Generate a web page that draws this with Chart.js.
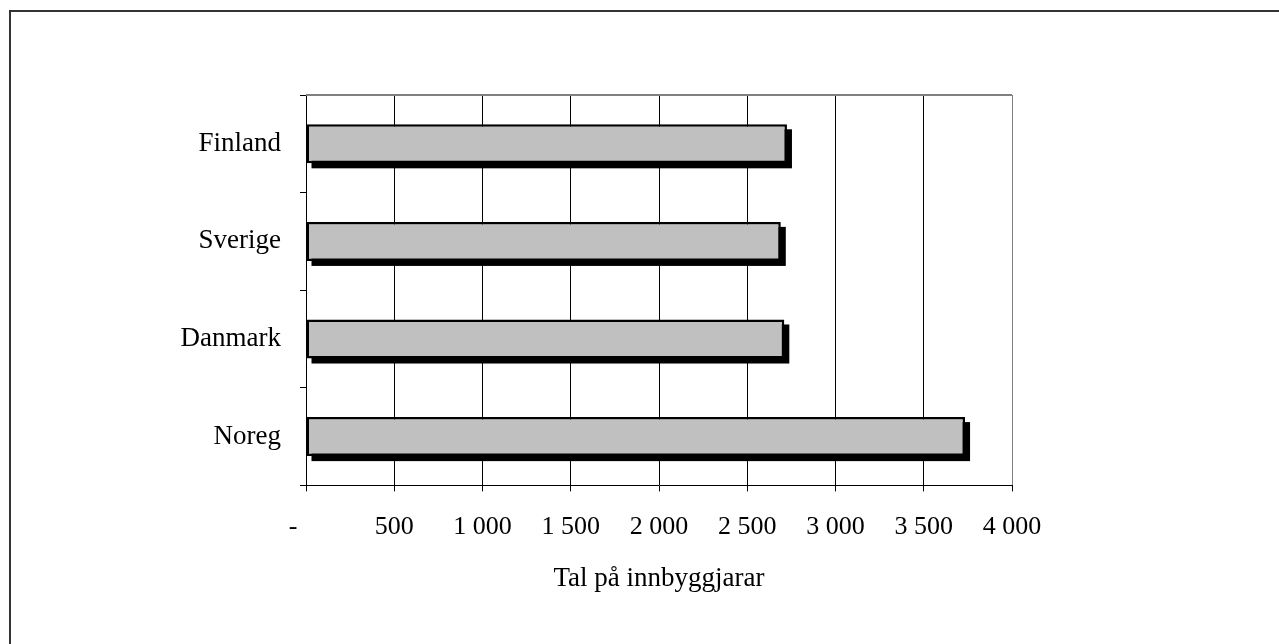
<!DOCTYPE html>
<html>
<head>
<meta charset="utf-8">
<script src="https://cdn.jsdelivr.net/npm/chart.js@4/dist/chart.umd.min.js"></script>
<style>
  html, body { margin: 0; padding: 0; background: #ffffff; overflow: hidden; }
  #frame { position: absolute; left: 9px; top: 10px; width: 1400px; height: 800px; border: 2px solid #333333; }
  #wrap { position: absolute; left: 0; top: 0; width: 1279px; height: 644px; }
</style>
</head>
<body>
<div id="frame"></div>
<div id="wrap"><canvas id="c" width="1279" height="644"></canvas></div>
<script>
const categories = ["Finland", "Sverige", "Danmark", "Noreg"];
const populationValues = [2725, 2690, 2710, 3734];
const xTickValues = [0, 500, 1000, 1500, 2000, 2500, 3000, 3500, 4000];
const xTickLabels = ["-", "500", "1 000", "1 500", "2 000", "2 500", "3 000", "3 500", "4 000"];
const axisTitle = "Tal på innbyggjarar";

const FAMILY = "'Liberation Serif', 'Times New Roman', serif";
const LABEL_FONT = { family: FAMILY, size: 27 };
const TICK_FONT = { family: FAMILY, size: 26 };

// Draws the black drop shadow behind each bar, using the bar elements' own geometry
const shadowPlugin = {
  id: 'barShadow',
  beforeDatasetsDraw(chart) {
    const ctx = chart.ctx;
    const off = 5;
    ctx.save();
    ctx.fillStyle = '#000000';
    chart.getSortedVisibleDatasetMetas().forEach(meta => {
      meta.data.forEach(bar => {
        const p = bar.getProps(['x', 'y', 'base', 'height'], true);
        const left = Math.min(p.base, p.x);
        const w = Math.abs(p.x - p.base);
        ctx.fillRect(left + off, p.y - p.height / 2 + off, w, p.height);
      });
    });
    ctx.restore();
  }
};

const plotBorderPlugin = {
  id: 'plotBorder',
  beforeDatasetsDraw(chart) {
    const { ctx, chartArea } = chart;
    ctx.save();
    ctx.strokeStyle = '#808080';
    ctx.lineWidth = 2;
    ctx.beginPath();
    ctx.moveTo(chartArea.left, chartArea.top);
    ctx.lineTo(chartArea.right, chartArea.top);
    ctx.stroke();
    ctx.restore();
  }
};

new Chart(document.getElementById('c'), {
  type: 'bar',
  data: {
    labels: categories,
    datasets: [{
      data: populationValues,
      backgroundColor: '#c0c0c0',
      borderColor: '#000000',
      borderWidth: 2.5,
      borderSkipped: false,
      barPercentage: 0.4,
      categoryPercentage: 1.0
    }]
  },
  options: {
    indexAxis: 'y',
    responsive: false,
    animation: false,
    events: [],
    layout: { padding: { left: 0, right: 267, top: 95, bottom: 45 } },
    plugins: { legend: { display: false }, tooltip: { enabled: false } },
    scales: {
      x: {
        min: 0,
        max: 4000,
        afterBuildTicks(scale) {
          scale.ticks = xTickValues.map(v => ({ value: v }));
        },
        ticks: {
          color: '#000000',
          font: TICK_FONT,
          padding: 20,
          maxRotation: 0,
          autoSkip: false,
          callback(value) {
            const i = xTickValues.indexOf(value);
            if (i < 0) return '';
            // the zero label sits left of its tick in the original
            return i === 0 ? xTickLabels[i] + '\u00a0\u00a0\u00a0\u00a0' : xTickLabels[i];
          }
        },
        grid: {
          color(ctx) { return ctx.tick && ctx.tick.value === 4000 ? '#808080' : '#000000'; },
          tickColor: '#000000',
          lineWidth: 1,
          tickLength: 6,
          drawOnChartArea: true,
          drawTicks: true
        },
        border: { display: true, color: '#000000', width: 1 },
        title: {
          display: true,
          text: axisTitle,
          color: '#000000',
          font: LABEL_FONT,
          padding: { top: 0, bottom: 4 }
        }
      },
      y: {
        afterFit(scale) { scale.width = 306; },
        ticks: { color: '#000000', font: LABEL_FONT, padding: 19 },
        grid: {
          offset: true,
          color: '#000000',
          lineWidth: 1,
          tickLength: 6,
          drawOnChartArea: false,
          drawTicks: true
        },
        border: { display: true, color: '#000000', width: 1 }
      }
    }
  },
  plugins: [plotBorderPlugin, shadowPlugin]
});
</script>
</body>
</html>
